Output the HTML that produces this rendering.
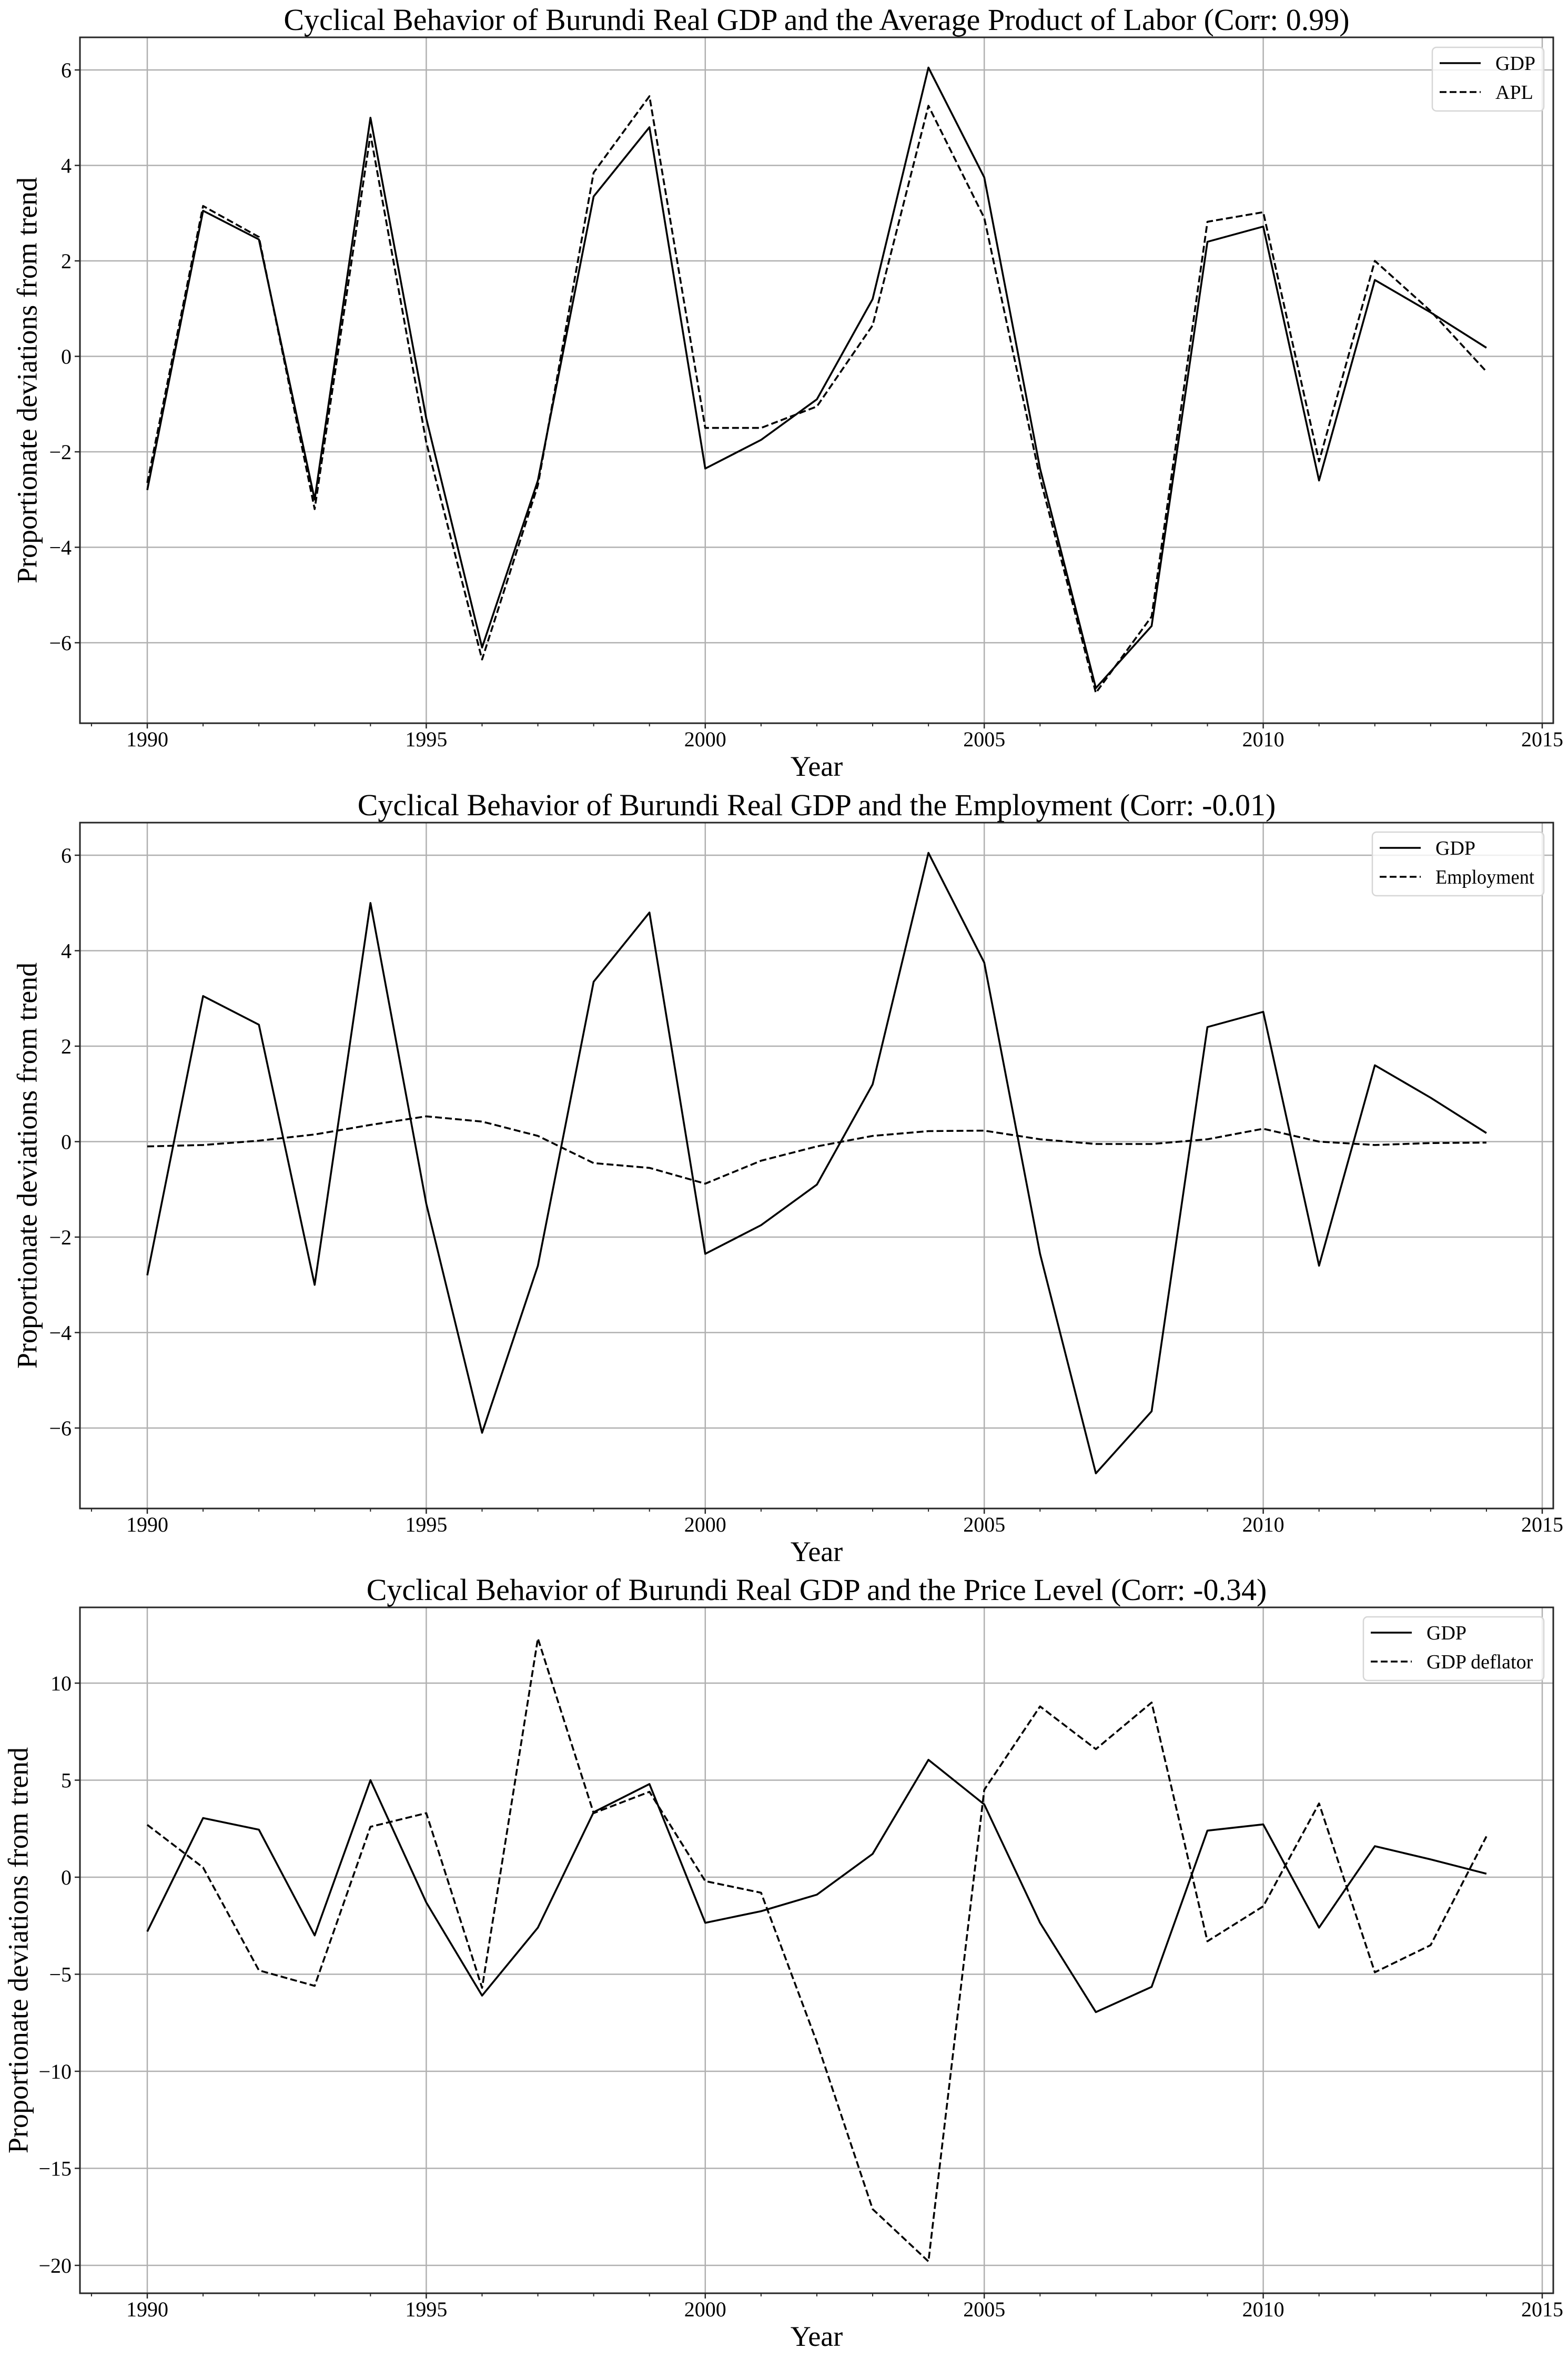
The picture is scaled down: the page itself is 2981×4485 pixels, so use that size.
<!DOCTYPE html>
<html><head><meta charset="utf-8"><style>
html,body{margin:0;padding:0;background:#fff;}
svg{display:block;font-family:"Liberation Serif","DejaVu Serif",serif;}
</style></head><body>
<svg id="fig" width="2981" height="4485" viewBox="0 0 2981 4485" xmlns="http://www.w3.org/2000/svg"></svg>
<script>
const years = [1990,1991,1992,1993,1994,1995,1996,1997,1998,1999,2000,2001,2002,2003,2004,2005,2006,2007,2008,2009,2010,2011,2012,2013,2014];
const gdp = [-2.8,3.05,2.45,-3.0,5.0,-1.3,-6.1,-2.6,3.35,4.8,-2.35,-1.75,-0.9,1.2,6.05,3.75,-2.35,-6.95,-5.65,2.4,2.72,-2.6,1.6,0.92,0.18];
const apl = [-2.65,3.15,2.5,-3.2,4.65,-1.8,-6.35,-2.7,3.85,5.45,-1.5,-1.5,-1.05,0.65,5.25,2.9,-2.55,-7.05,-5.45,2.82,3.02,-2.2,2.0,0.95,-0.32];
const employment = [-0.1,-0.07,0.02,0.15,0.35,0.53,0.42,0.12,-0.45,-0.55,-0.88,-0.4,-0.1,0.12,0.22,0.23,0.05,-0.05,-0.05,0.05,0.27,0.0,-0.07,-0.03,-0.02];
const deflator = [2.7,0.5,-4.8,-5.6,2.6,3.3,-5.7,12.3,3.3,4.4,-0.2,-0.8,-8.5,-17.1,-19.8,4.5,8.8,6.6,9.0,-3.3,-1.5,3.8,-4.9,-3.5,2.1];
const xTicks = [1990,1995,2000,2005,2010,2015];
const yTicks12 = [-6,-4,-2,0,2,4,6];
const yTicks3 = [-20,-15,-10,-5,0,5,10];
const titles = ["Cyclical Behavior of Burundi Real GDP and the Average Product of Labor (Corr: 0.99)","Cyclical Behavior of Burundi Real GDP and the Employment (Corr: -0.01)","Cyclical Behavior of Burundi Real GDP and the Price Level (Corr: -0.34)"];
const legendLabels = [["GDP","APL"],["GDP","Employment"],["GDP","GDP deflator"]];

const NS="http://www.w3.org/2000/svg";
const fig=document.getElementById('fig');
function mk(tag,attrs,parent){const e=document.createElementNS(NS,tag);for(const k in attrs)e.setAttribute(k,attrs[k]);(parent||fig).appendChild(e);return e;}

const L=152,R=2953;
const xs=y=>280+(y-1990)*106.08;
const panels=[
 {top:71,bot:1375,y0:677.5,k:90.75,ticks:yTicks12,series:[gdp,apl],ylx:57,lg:{x:2723,y:90,w:212}},
 {top:1564,bot:2868,y0:2170.5,k:90.75,ticks:yTicks12,series:[gdp,employment],ylx:57,lg:{x:2609,y:1582,w:326}},
 {top:3056,bot:4360,y0:3569,k:36.9,ticks:yTicks3,series:[gdp,deflator],ylx:40,lg:{x:2592,y:3074,w:343}}
];
panels.forEach((p,i)=>{
  const g=mk('g',{});
  
  
  const ys=v=>p.y0-v*p.k;
  xTicks.forEach(t=>{const l=mk('line',{x1:xs(t),x2:xs(t),y1:p.top,y2:p.bot,stroke:'#b0b0b0','stroke-width':2.5},g);});
  p.ticks.forEach(t=>{const l=mk('line',{x1:L,x2:R,y1:ys(t),y2:ys(t),stroke:'#b0b0b0','stroke-width':2.5},g);});
  p.series.forEach((s,si)=>{
    const d=s.map((v,j)=>(j?'L':'M')+xs(years[j]).toFixed(1)+' '+ys(v).toFixed(1)).join(' ');
    const a={d:d,fill:'none',stroke:'#000','stroke-width':3.6,'stroke-linejoin':'round'};
    if(si===1)a['stroke-dasharray']='13 6';
    const pa=mk('path',a,g);
    
    
  });
  const fr=mk('rect',{x:L,y:p.top,width:R-L,height:p.bot-p.top,fill:'none',stroke:'#262626','stroke-width':3},g);
  
  for(let y=1989;y<=2015;y++){
    const major=y%5===0;
    mk('line',{x1:xs(y),x2:xs(y),y1:p.bot,y2:p.bot+(major?10:6),stroke:'#262626','stroke-width':major?2.5:2},g);
  }
  xTicks.forEach(t=>{const tx=mk('text',{x:xs(t),y:p.bot+44,'font-size':40,'text-anchor':'middle',fill:'#000'},g);tx.textContent=t;});
  p.ticks.forEach(t=>{
    mk('line',{x1:L-10,x2:L,y1:ys(t),y2:ys(t),stroke:'#262626','stroke-width':2.5},g);
    const tx=mk('text',{x:L-16,y:ys(t)+14,'font-size':40,'text-anchor':'end',fill:'#000'},g);
    tx.textContent=(t<0?'\u2212':'')+Math.abs(t);
    
  });
  const tt=mk('text',{x:(L+R)/2,y:p.top-14,'font-size':58,'text-anchor':'middle',fill:'#000'},g);
  tt.textContent=titles[i];
  const xl=mk('text',{x:(L+R)/2,y:p.bot+100,'font-size':54,'text-anchor':'middle',fill:'#000'},g);
  xl.textContent='Year';
  const cy=(p.top+p.bot)/2;
  const yl=mk('text',{x:p.ylx,y:cy,'font-size':54,'text-anchor':'middle',fill:'#000',transform:'rotate(-90 '+(p.ylx)+' '+cy+')','dominant-baseline':'middle'},g);
  yl.textContent='Proportionate deviations from trend';
  const lg=mk('g',{},g);
  mk('rect',{x:p.lg.x,y:p.lg.y,width:p.lg.w,height:121,rx:8,fill:'rgba(255,255,255,0.8)',stroke:'#d6d6d6','stroke-width':2.5},lg);
  legendLabels[i].forEach((lab,li)=>{
    const ly=p.lg.y+30+li*55;
    const a={x1:p.lg.x+14,x2:p.lg.x+92,y1:ly,y2:ly,stroke:'#000','stroke-width':3.6};
    if(li===1)a['stroke-dasharray']='13 6';
    mk('line',a,lg);
    const ta={x:p.lg.x+120,y:ly+13,'font-size':38,fill:'#000'};
    if(lab==='Employment'){ta.textLength=188;ta.lengthAdjust='spacingAndGlyphs';}
    const tx=mk('text',ta,lg);
    tx.textContent=lab;
  });
});
</script>
</body></html>
